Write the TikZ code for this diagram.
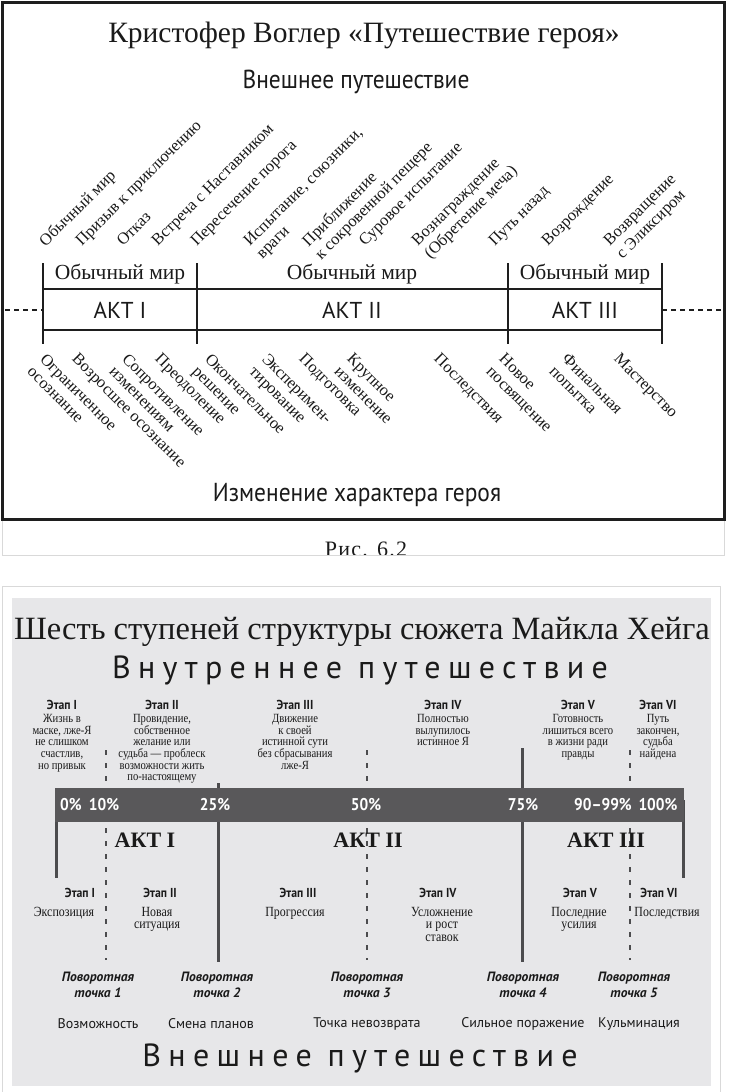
\documentclass[tikz,border=0pt]{standalone}
\usepackage{fontspec}
\setmainfont{Liberation Serif}
\setsansfont{PT Sans}
\newfontfamily\condsans[FakeStretch=0.9]{PT Sans}
\newfontfamily\widesans[LetterSpace=23]{PT Sans}
\newfontfamily\narrowserif[FakeStretch=0.85]{Liberation Serif}
\newfontfamily\wideserif[LetterSpace=6]{Liberation Serif}
\usepackage{xcolor}
\definecolor{framegray}{HTML}{1E1E1E}
\definecolor{boxline}{HTML}{D9D9D9}
\definecolor{panelgray}{HTML}{E7E7E9}
\definecolor{bandgray}{HTML}{59585A}
\definecolor{markgray}{HTML}{4C4C4E}
\definecolor{inkgray}{HTML}{1A1A1A}
\usepackage{tikz}
\usetikzlibrary{positioning}

\begin{document}
\begin{tikzpicture}[x=1pt, y=-1pt,
  every node/.style={text=inkgray},
  uplabel/.style={rotate=45, anchor=north west, inner sep=0pt, align=left,
    font=\fontsize{16.5}{18}\selectfont},
  downlabel/.style={rotate=-45, anchor=north west, inner sep=0pt, align=left,
    font=\fontsize{16.5}{18}\selectfont},
  worldlabel/.style={font=\fontsize{21.5}{23}\selectfont},
  actlabel/.style={font=\sffamily\fontsize{23}{25}\selectfont},
  stagehead/.style={font=\condsans\bfseries\fontsize{13}{15}\selectfont},
  stagetext/.style={anchor=north, inner sep=0pt, align=center,
    font=\narrowserif\fontsize{12.5}{11.7}\selectfont},
  pctlabel/.style={text=white, font=\condsans\bfseries\fontsize{17}{19}\selectfont},
  turnlabel/.style={align=center, font=\sffamily\bfseries\itshape\fontsize{13.5}{16}\selectfont},
  eventlabel/.style={font=\sffamily\fontsize{14}{16}\selectfont},
  solidmark/.style={markgray, line width=3pt},
  dashmark/.style={markgray, line width=2.5pt, dash pattern=on 5pt off 8pt}]

\useasboundingbox (0,0) rectangle (728,1092);
\fill[white] (0,0) rectangle (728,1092);

% --- Vogler: frame and headings ---
\draw[framegray, line width=3pt] (2,2) rectangle (724,519);
\node[font=\fontsize{29.5}{32}\selectfont] (vtitle) at (364,35)
      {Кристофер Воглер «Путешествие героя»};
\node[font=\condsans\fontsize{26}{28}\selectfont] (outer) at (356,82)
      {Внешнее путешествие};

% stages above the line
\node[uplabel] (s1) at (37,239) {Обычный мир};
\node[uplabel] (s2) at (74,239) {Призыв к приключению};
\node[uplabel] (s3) at (115,239) {Отказ};
\node[uplabel] (s4) at (150,239) {Встреча с Наставником};
\node[uplabel] (s5) at (189,239) {Пересечение порога};
\node[uplabel] (s6) at (242,239) {Испытание, союзники,\\враги};
\node[uplabel] (s7) at (300,239) {Приближение\\к сокровенной пещере};
\node[uplabel] (s8) at (357,239) {Суровое испытание};
\node[uplabel] (s9) at (410,239) {Вознаграждение\\(Обретение меча)};
\node[uplabel] (s10) at (487,239) {Путь назад};
\node[uplabel] (s11) at (540,239) {Возрождение};
\node[uplabel] (s12) at (602,239) {Возвращение\\с Эликсиром};

% acts strip
\draw[framegray, line width=2pt] (43,289) -- (662,289);
\draw[framegray, line width=2pt] (43,330) -- (662,330);
\draw[framegray, line width=2pt] (43,263) -- (43,344);
\draw[framegray, line width=2pt] (197,263) -- (197,344);
\draw[framegray, line width=2pt] (508,263) -- (508,344);
\draw[framegray, line width=2pt] (662,263) -- (662,344);
\draw[framegray, line width=1.5pt, dash pattern=on 5pt off 4pt] (5,310) -- (43,310);
\draw[framegray, line width=1.5pt, dash pattern=on 5pt off 4pt] (662,310) -- (722,310);
\node[worldlabel] (w1) at (120,274) {Обычный мир};
\node[worldlabel] (w2) at (352,274) {Обычный мир};
\node[worldlabel] (w3) at (585,274) {Обычный мир};
\node[actlabel] (a1) at (120,310) {АКТ I};
\node[actlabel] (a2) at (352,310) {АКТ II};
\node[actlabel] (a3) at (585,310) {АКТ III};

% character changes below the line
\node[downlabel] (c1) at (47,352) {Ограниченное\\осознание};
\node[downlabel] (c2) at (79,352) {Возросшее осознание};
\node[downlabel] (c3) at (129,352) {Сопротивление\\изменениям};
\node[downlabel] (c4) at (162,352) {Преодоление};
\node[downlabel] (c5) at (212,352) {Окончательное\\решение};
\node[downlabel] (c6) at (269,352) {Эксперимен-\\тирование};
\node[downlabel] (c7) at (306,352) {Подготовка};
\node[downlabel] (c8) at (354,352) {Крупное\\изменение};
\node[downlabel] (c9) at (441,352) {Последствия};
\node[downlabel] (c10) at (506,352) {Новое\\посвящение};
\node[downlabel] (c11) at (569,352) {Финальная\\попытка};
\node[downlabel] (c12) at (621,352) {Мастерство};

\node[font=\condsans\fontsize{26}{28}\selectfont] (change) at (357,495)
      {Изменение характера героя};

% caption strip
\begin{scope}
  \clip (2,521) rectangle (724,555);
  \node[font=\wideserif\fontsize{22}{24}\selectfont, anchor=base] (figcap) at (366,556) {Рис. 6.2};
\end{scope}
\draw[boxline, line width=1pt] (2,521) -- (2,555) -- (724,555) -- (724,521);

% --- Hague: panel ---
\draw[boxline, line width=1pt] (2,586) rectangle (720,1096);
\fill[panelgray] (12,598) rectangle (711,1086);
\node[font=\fontsize{32.5}{35}\selectfont] (htitle) at (362,632)
      {Шесть ступеней структуры сюжета Майкла Хейга};
\node[font=\widesans\fontsize{32}{35}\selectfont] (inner) at (360,670)
      {Внутреннее путешествие};

% inner stages
\node[stagehead] (t1) at (62,705) {Этап I};
\node[stagehead] (t2) at (162,705) {Этап II};
\node[stagehead] (t3) at (295,705) {Этап III};
\node[stagehead] (t4) at (443,705) {Этап IV};
\node[stagehead] (t5) at (578,705) {Этап V};
\node[stagehead] (t6) at (658,705) {Этап VI};
\node[stagetext] (d1) at (62,714) {Жизнь в\\маске, лже-Я\\не слишком\\счастлив,\\но привык};
\node[stagetext] (d2) at (162,714) {Провидение,\\собственное\\желание или\\судьба — проблеск\\возможности жить\\по-настоящему};
\node[stagetext] (d3) at (295,714) {Движение\\к своей\\истинной сути\\без сбрасывания\\лже-Я};
\node[stagetext] (d4) at (443,714) {Полностью\\вылупилось\\истинное Я};
\node[stagetext] (d5) at (578,714) {Готовность\\лишиться всего\\в жизни ради\\правды};
\node[stagetext] (d6) at (658,714) {Путь\\закончен,\\судьба\\найдена};

% markers
\draw[dashmark] (106,750) -- (106,960);
\draw[dashmark] (367,750) -- (367,960);
\draw[dashmark] (630,750) -- (630,960);
\draw[solidmark] (218,783) -- (218,962);
\draw[solidmark] (522,748) -- (522,962);
\draw[solidmark] (56,800) -- (56,878);
\draw[solidmark] (683,800) -- (683,878);

% percent band
\fill[bandgray] (55,788) rectangle (684,822);
\node[pctlabel] (p0) at (71,805) {0\%};
\node[pctlabel] (p10) at (104,805) {10\%};
\node[pctlabel] (p25) at (215,805) {25\%};
\node[pctlabel] (p50) at (366,805) {50\%};
\node[pctlabel] (p75) at (523,805) {75\%};
\node[pctlabel] (p90) at (603,805) {90–99\%};
\node[pctlabel] (p100) at (658,805) {100\%};

\node[font=\bfseries\fontsize{22}{24}\selectfont] (act1) at (145,840) {АКТ I};
\node[font=\bfseries\fontsize{22}{24}\selectfont] (act2) at (368,840) {АКТ II};
\node[font=\bfseries\fontsize{22}{24}\selectfont] (act3) at (606,840) {АКТ III};

% outer stages
\node[stagehead] (u1) at (80,893) {Этап I};
\node[stagehead] (u2) at (160,893) {Этап II};
\node[stagehead] (u3) at (298,893) {Этап III};
\node[stagehead] (u4) at (438,893) {Этап IV};
\node[stagehead] (u5) at (580,893) {Этап V};
\node[stagehead] (u6) at (659,893) {Этап VI};
\node[stagetext, font=\narrowserif\fontsize{14}{12.5}\selectfont] (e1) at (64,907) {Экспозиция};
\node[stagetext, font=\narrowserif\fontsize{14}{12.5}\selectfont] (e2) at (157,907) {Новая\\ситуация};
\node[stagetext, font=\narrowserif\fontsize{14}{12.5}\selectfont] (e3) at (295,907) {Прогрессия};
\node[stagetext, font=\narrowserif\fontsize{14}{12.5}\selectfont] (e4) at (442,907) {Усложнение\\и рост\\ставок};
\node[stagetext, font=\narrowserif\fontsize{14}{12.5}\selectfont] (e5) at (579,907) {Последние\\усилия};
\node[stagetext, font=\narrowserif\fontsize{14}{12.5}\selectfont] (e6) at (667,907) {Последствия};

% turning points
\node[turnlabel] (tp1) at (98,985) {Поворотная\\точка 1};
\node[turnlabel] (tp2) at (217,985) {Поворотная\\точка 2};
\node[turnlabel] (tp3) at (367,985) {Поворотная\\точка 3};
\node[turnlabel] (tp4) at (523,985) {Поворотная\\точка 4};
\node[turnlabel] (tp5) at (634,985) {Поворотная\\точка 5};

\node[eventlabel] (ev1) at (98,1024) {Возможность};
\node[eventlabel] (ev2) at (211,1024) {Смена планов};
\node[eventlabel] (ev3) at (367,1024) {Точка невозврата};
\node[eventlabel] (ev4) at (523,1024) {Сильное поражение};
\node[eventlabel] (ev5) at (639,1024) {Кульминация};

\node[font=\widesans\fontsize{32}{35}\selectfont] (outer2) at (360,1058)
      {Внешнее путешествие};

\end{tikzpicture}
\end{document}
